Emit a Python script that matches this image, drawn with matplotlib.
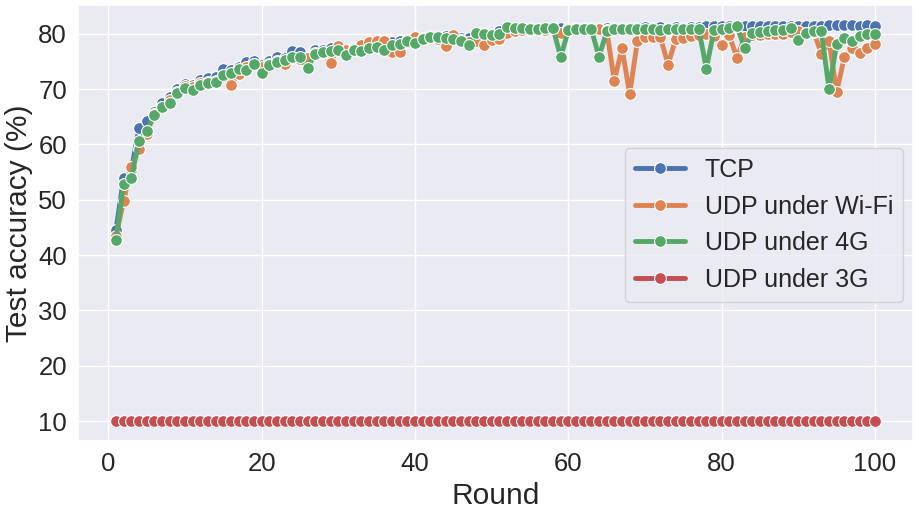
import matplotlib
matplotlib.use("Agg")
import matplotlib.pyplot as plt
import seaborn as sns

rounds = list(range(1, 101))

tcp = [44.5, 53.9, 55.3, 62.9, 64.3, 65.9, 67.5, 68.5, 70.0, 70.9,
       70.7, 71.7, 72.0, 72.2, 73.6, 73.5, 74.0, 74.8, 75.0, 74.3,
       75.0, 75.8, 75.6, 76.9, 76.7, 75.8, 77.0, 77.0, 77.5, 77.6,
       77.0, 77.5, 77.8, 78.2, 78.5, 78.3, 78.5, 78.6, 78.8, 79.0,
       79.3, 79.5, 79.6, 79.5, 79.6, 79.2, 79.2, 80.2, 80.2, 80.0,
       80.5, 81.1, 81.0, 81.0, 81.0, 80.9, 81.0, 81.1, 81.0, 81.0,
       81.1, 81.0, 81.1, 81.0, 81.0, 81.1, 81.1, 81.0, 81.1, 81.2,
       81.1, 81.2, 81.1, 81.2, 81.1, 81.2, 81.2, 81.3, 81.4, 81.3,
       81.3, 81.4, 81.4, 81.4, 81.3, 81.4, 81.4, 81.3, 81.4, 81.4,
       81.4, 81.4, 81.3, 81.5, 81.6, 81.5, 81.5, 81.4, 81.5, 81.4]

udp_wifi = [43.5, 49.7, 56.0, 59.1, 61.9, 65.5, 66.8, 68.0, 69.5, 70.5,
            70.3, 71.0, 71.2, 71.5, 72.5, 70.8, 72.7, 74.0, 74.5, 74.0,
            74.5, 75.0, 74.6, 75.6, 75.5, 75.6, 76.5, 76.5, 74.7, 77.7,
            77.0, 77.2, 78.0, 78.5, 78.6, 78.6, 76.7, 76.7, 78.5, 79.4,
            79.2, 79.5, 79.0, 77.8, 79.8, 78.8, 78.5, 78.6, 78.0, 78.8,
            79.0, 80.2, 80.5, 80.6, 80.6, 80.7, 80.6, 80.8, 80.2, 80.8,
            80.9, 80.9, 80.9, 80.8, 80.6, 71.5, 77.4, 69.1, 78.6, 79.4,
            79.4, 79.4, 74.4, 79.0, 79.3, 79.6, 79.8, 80.0, 79.6, 77.9,
            79.7, 75.6, 79.4, 79.7, 79.8, 79.9, 80.0, 80.0, 80.3, 80.5,
            80.2, 80.3, 76.4, 78.6, 69.5, 75.8, 77.4, 76.5, 77.4, 78.2]

udp_4g = [42.7, 52.9, 53.9, 60.6, 62.4, 65.3, 66.7, 67.5, 69.3, 70.2,
          69.9, 70.8, 71.0, 71.2, 72.6, 72.9, 73.6, 73.5, 74.6, 72.9,
          74.3, 74.9, 75.3, 75.8, 75.8, 73.8, 76.4, 76.7, 76.9, 77.1,
          76.2, 77.1, 76.9, 77.4, 77.6, 77.1, 78.0, 78.2, 78.6, 78.4,
          79.0, 79.4, 79.4, 79.2, 79.1, 78.6, 77.9, 80.2, 80.0, 79.8,
          80.0, 81.2, 81.0, 81.0, 80.9, 80.8, 81.0, 81.0, 75.8, 80.6,
          80.8, 80.8, 80.8, 75.8, 80.4, 80.8, 80.8, 80.8, 80.8, 80.8,
          80.8, 80.7, 80.8, 80.8, 80.8, 80.8, 80.9, 73.7, 80.6, 80.9,
          81.0, 81.3, 77.4, 80.2, 80.3, 80.5, 80.6, 80.7, 81.0, 78.9,
          80.1, 80.4, 80.4, 70.0, 78.2, 79.3, 78.6, 79.6, 79.9, 80.0]

udp_3g = [10.0] * 100

series = [("TCP", tcp), ("UDP under Wi-Fi", udp_wifi),
          ("UDP under 4G", udp_4g), ("UDP under 3G", udp_3g)]

sns.set_theme(style="darkgrid")
plt.rcParams["font.family"] = ["Liberation Sans", "DejaVu Sans"]

fig, ax = plt.subplots(figsize=(9.2, 5.13), dpi=100)
fig.subplots_adjust(left=78/920, right=913/920, top=1-5/513, bottom=1-441/513)

colors = sns.color_palette("deep")
for i, (name, vals) in enumerate(series):
    ax.plot(rounds, vals, color=colors[i], lw=3.5, marker="o", ms=8.5,
            mec="white", mew=0.8, label=name)

ax.set_xlabel("Round", fontsize=21.5)
ax.set_ylabel("Test accuracy (%)", fontsize=21.5)
ax.set_xticks([0, 20, 40, 60, 80, 100])
ax.set_yticks([10, 20, 30, 40, 50, 60, 70, 80])
ax.tick_params(labelsize=18.5, length=0, pad=8)
ax.legend(fontsize=18, loc="upper right", bbox_to_anchor=(0.988, 0.672),
          borderaxespad=0)

plt.savefig("out.png")
